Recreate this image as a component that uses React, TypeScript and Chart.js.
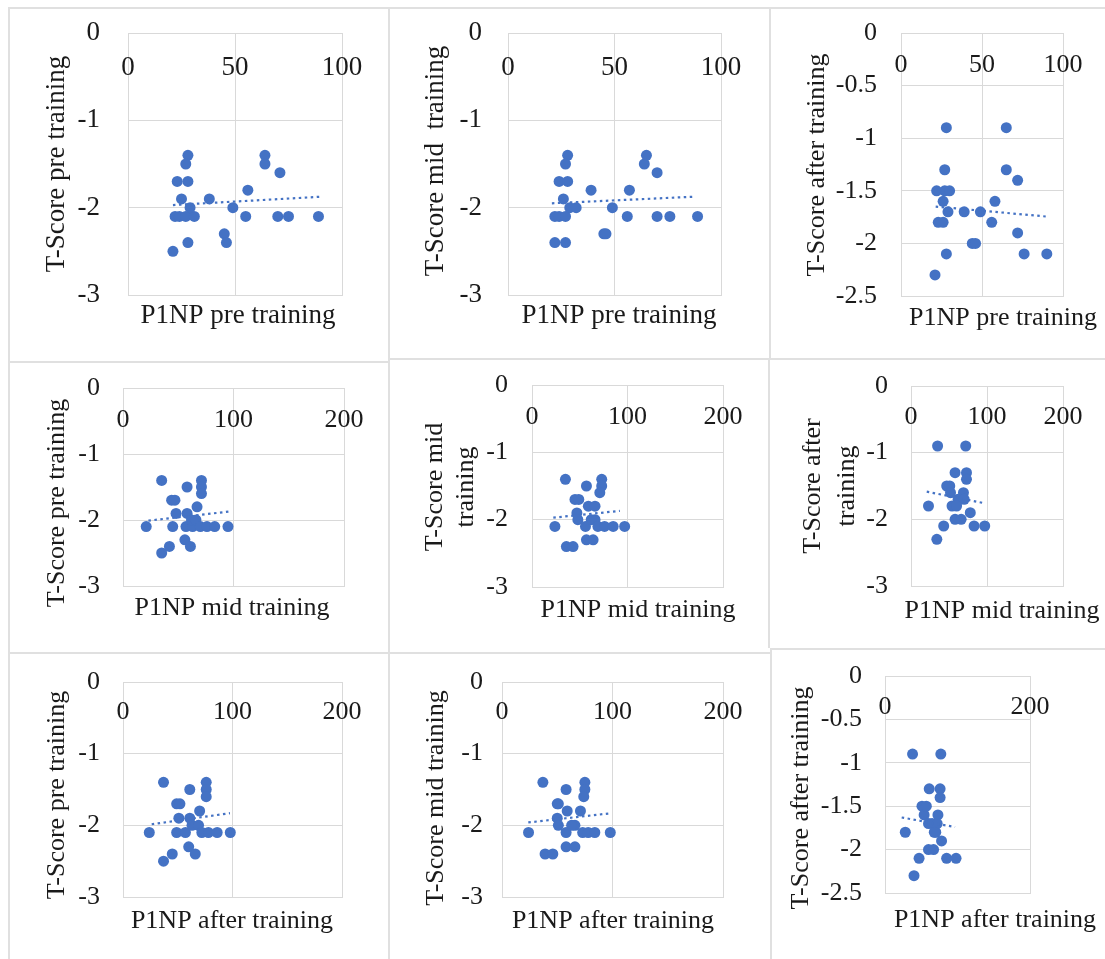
import React, { useEffect, useRef } from "react";
import { Chart, registerables } from "chart.js";

Chart.register(...registerables);

// ---------- DATA ----------
// Row 1: x = P1NP pre training
const p1x = [21, 28, 23, 28, 28, 27, 25, 22, 24, 27, 31, 29, 38, 49, 45, 46, 55, 56, 64, 64, 71, 70, 75, 89];
const p1y = [-2.5, -2.4, -1.7, -1.7, -1.4, -1.5, -1.9, -2.1, -2.1, -2.1, -2.1, -2.0, -1.9, -2.0, -2.3, -2.4, -2.1, -1.8, -1.4, -1.5, -1.6, -2.1, -2.1, -2.1];
const p1TrendX = [21, 90];
const p1TrendY = [-1.97, -1.875];

const p2x = [22, 27, 24, 28, 28, 27, 26, 22, 24, 27, 29, 32, 39, 49, 45, 46, 56, 57, 65, 64, 70, 70, 76, 89];
const p2y = [-2.4, -2.4, -1.7, -1.7, -1.4, -1.5, -1.9, -2.1, -2.1, -2.1, -2.0, -2.0, -1.8, -2.0, -2.3, -2.3, -2.1, -1.8, -1.4, -1.5, -1.6, -2.1, -2.1, -2.1];
const p2TrendX = [20.6, 87];
const p2TrendY = [-1.95, -1.875];

const p3x = [28, 65, 27, 65, 72, 22, 27, 30, 26, 29, 39, 49, 58, 23, 26, 56, 72, 44, 46, 28, 76, 90, 21];
const p3y = [-0.9, -0.9, -1.3, -1.3, -1.4, -1.5, -1.5, -1.5, -1.6, -1.7, -1.7, -1.7, -1.6, -1.8, -1.8, -1.8, -1.9, -2.0, -2.0, -2.1, -2.1, -2.1, -2.3];
const p3TrendX = [21.4, 90];
const p3TrendY = [-1.65, -1.745];

// Row 2: x = P1NP mid training
const p4x = [21, 35, 35, 42, 44, 47, 45, 48, 58, 58, 56, 61, 57, 63, 67, 62, 66, 71, 71, 71, 70, 76, 83, 95];
const p4y = [-2.1, -1.4, -2.5, -2.4, -1.7, -1.7, -2.1, -1.9, -1.9, -1.5, -2.3, -2.4, -2.1, -2.1, -1.8, -2.0, -2.0, -1.4, -1.5, -1.6, -2.1, -2.1, -2.1, -2.1];
const p4TrendX = [23, 97];
const p4TrendY = [-2.01, -1.87];

const p5x = [24, 35, 36, 43, 45, 49, 47, 48, 57, 57, 64, 56, 59, 66, 73, 73, 71, 66, 62, 69, 76, 85, 97];
const p5y = [-2.1, -1.4, -2.4, -2.4, -1.7, -1.7, -1.9, -2.0, -1.5, -2.3, -2.3, -2.1, -1.8, -1.8, -1.4, -1.5, -1.6, -2.0, -2.0, -2.1, -2.1, -2.1, -2.1];
const p5TrendX = [22.3, 92];
const p5TrendY = [-1.97, -1.87];

const p6x = [35, 72, 58, 73, 73, 47, 51, 52, 69, 62, 64, 70, 23, 54, 60, 78, 58, 66, 43, 83, 97, 34];
const p6y = [-0.9, -0.9, -1.3, -1.3, -1.4, -1.5, -1.5, -1.6, -1.6, -1.7, -1.7, -1.7, -1.8, -1.8, -1.8, -1.9, -2.0, -2.0, -2.1, -2.1, -2.1, -2.3];
const p6TrendX = [20.7, 97.4];
const p6TrendY = [-1.585, -1.76];

// Row 3: x = P1NP after training
const p7x = [24, 37, 37, 45, 49, 52, 51, 49, 57, 61, 61, 63, 60, 66, 70, 76, 76, 76, 69, 72, 78, 86, 98];
const p7y = [-2.1, -1.4, -2.5, -2.4, -1.7, -1.7, -1.9, -2.1, -2.1, -1.5, -1.9, -2.0, -2.3, -2.4, -1.8, -1.4, -1.5, -1.6, -2.0, -2.1, -2.1, -2.1, -2.1];
const p7TrendX = [26.2, 97.7];
const p7TrendY = [-1.985, -1.83];

const p8x = [24, 37, 39, 46, 50, 51, 50, 51, 58, 59, 58, 58, 66, 71, 75, 75, 74, 66, 63, 73, 78, 84, 98];
const p8y = [-2.1, -1.4, -2.4, -2.4, -1.7, -1.7, -1.9, -2.0, -1.5, -1.8, -2.1, -2.3, -2.3, -1.8, -1.4, -1.5, -1.6, -2.0, -2.0, -2.1, -2.1, -2.1, -2.1];
const p8TrendX = [23.8, 99.3];
const p8TrendY = [-1.96, -1.83];

const p9x = [38, 77, 61, 76, 76, 51, 54, 73, 28, 60, 65, 70, 78, 60, 67, 47, 85, 98, 40, 57, 72, 68];
const p9y = [-0.9, -0.9, -1.3, -1.3, -1.4, -1.5, -1.6, -1.6, -1.8, -1.7, -1.7, -1.8, -1.9, -2.0, -2.0, -2.1, -2.1, -2.1, -2.3, -1.5, -1.7, -1.8];
const p9TrendX = [23, 96.6];
const p9TrendY = [-1.63, -1.74];

// Axis titles
const xTitles = ["P1NP pre training", "P1NP mid training", "P1NP after training"];
const yTitlesOneLine = ["T-Score pre training", "T-Score mid  training", "T-Score after training"];

// ---------- LAYOUT ----------
type Rect = { x: number; y: number; w: number; h: number };
type PanelCfg = {
  xs: number[];
  ys: number[];
  tx: number[];
  ty: number[];
  cell: Rect;
  plot: { l: number; t: number; r: number; b: number };
  xMax: number;
  xStep: number;
  yMin: number;
  yStep: number;
  font: number;
  yLabelRight: number;
  xLabelY: number;
  yTitle: string[];
  yTitleX: number[];
  yTitleY: number;
  xTitle: string;
  xTitleX: number;
  xTitleBase: number;
};

const panels: PanelCfg[] = [
  {
    xs: p1x, ys: p1y, tx: p1TrendX, ty: p1TrendY,
    cell: { x: 8, y: 7, w: 380, h: 354 },
    plot: { l: 128, t: 33, r: 342, b: 295 },
    xMax: 100, xStep: 50, yMin: -3, yStep: 1, font: 27,
    yLabelRight: 100, xLabelY: 68,
    yTitle: [yTitlesOneLine[0]], yTitleX: [57], yTitleY: 164,
    xTitle: xTitles[0], xTitleX: 238, xTitleBase: 323,
  },
  {
    xs: p2x, ys: p2y, tx: p2TrendX, ty: p2TrendY,
    cell: { x: 388, y: 7, w: 381, h: 351 },
    plot: { l: 508, t: 33, r: 721, b: 295 },
    xMax: 100, xStep: 50, yMin: -3, yStep: 1, font: 27,
    yLabelRight: 482, xLabelY: 68,
    yTitle: [yTitlesOneLine[1]], yTitleX: [436], yTitleY: 161,
    xTitle: xTitles[0], xTitleX: 619, xTitleBase: 323,
  },
  {
    xs: p3x, ys: p3y, tx: p3TrendX, ty: p3TrendY,
    cell: { x: 769, y: 7, w: 336, h: 351 },
    plot: { l: 901, t: 33, r: 1063, b: 296 },
    xMax: 100, xStep: 50, yMin: -2.5, yStep: 0.5, font: 26,
    yLabelRight: 877, xLabelY: 65,
    yTitle: [yTitlesOneLine[2]], yTitleX: [817], yTitleY: 165,
    xTitle: xTitles[0], xTitleX: 1003, xTitleBase: 325,
  },
  {
    xs: p4x, ys: p4y, tx: p4TrendX, ty: p4TrendY,
    cell: { x: 8, y: 361, w: 380, h: 291 },
    plot: { l: 123, t: 388, r: 344, b: 586 },
    xMax: 200, xStep: 100, yMin: -3, yStep: 1, font: 26,
    yLabelRight: 100, xLabelY: 420,
    yTitle: [yTitlesOneLine[0]], yTitleX: [57], yTitleY: 503,
    xTitle: xTitles[1], xTitleX: 232, xTitleBase: 615,
  },
  {
    xs: p5x, ys: p5y, tx: p5TrendX, ty: p5TrendY,
    cell: { x: 388, y: 358, w: 380, h: 294 },
    plot: { l: 532, t: 385, r: 723, b: 587 },
    xMax: 200, xStep: 100, yMin: -3, yStep: 1, font: 26,
    yLabelRight: 508, xLabelY: 417,
    yTitle: ["T-Score mid", "training"], yTitleX: [435, 466], yTitleY: 487,
    xTitle: xTitles[1], xTitleX: 638, xTitleBase: 617,
  },
  {
    xs: p6x, ys: p6y, tx: p6TrendX, ty: p6TrendY,
    cell: { x: 768, y: 358, w: 337, h: 290 },
    plot: { l: 911, t: 386, r: 1063, b: 586 },
    xMax: 200, xStep: 100, yMin: -3, yStep: 1, font: 26,
    yLabelRight: 888, xLabelY: 417,
    yTitle: ["T-Score after", "training"], yTitleX: [813, 847], yTitleY: 486,
    xTitle: xTitles[1], xTitleX: 1002, xTitleBase: 618,
  },
  {
    xs: p7x, ys: p7y, tx: p7TrendX, ty: p7TrendY,
    cell: { x: 8, y: 652, w: 380, h: 307 },
    plot: { l: 123, t: 682, r: 342, b: 897 },
    xMax: 200, xStep: 100, yMin: -3, yStep: 1, font: 26,
    yLabelRight: 100, xLabelY: 712,
    yTitle: [yTitlesOneLine[0]], yTitleX: [57], yTitleY: 795,
    xTitle: xTitles[2], xTitleX: 232, xTitleBase: 928,
  },
  {
    xs: p8x, ys: p8y, tx: p8TrendX, ty: p8TrendY,
    cell: { x: 388, y: 652, w: 382, h: 307 },
    plot: { l: 502, t: 682, r: 723, b: 897 },
    xMax: 200, xStep: 100, yMin: -3, yStep: 1, font: 26,
    yLabelRight: 483, xLabelY: 712,
    yTitle: ["T-Score mid training"], yTitleX: [436], yTitleY: 798,
    xTitle: xTitles[2], xTitleX: 613, xTitleBase: 928,
  },
  {
    xs: p9x, ys: p9y, tx: p9TrendX, ty: p9TrendY,
    cell: { x: 770, y: 648, w: 335, h: 311 },
    plot: { l: 885, t: 676, r: 1030, b: 893 },
    xMax: 200, xStep: 200, yMin: -2.5, yStep: 0.5, font: 26,
    yLabelRight: 862, xLabelY: 707,
    yTitle: [yTitlesOneLine[2]], yTitleX: [801], yTitleY: 798,
    xTitle: xTitles[2], xTitleX: 995, xTitleBase: 927,
  },
];

const BLUE = "#4472C4";
const GRID = "#d9d9d9";
const TEXT = "#1a1a1a";
const FONT_FAMILY = '"Liberation Serif", "Times New Roman", serif';

function fmt(v: number): string {
  return String(Number(v.toFixed(2)));
}

function makeTextPlugin(c: PanelCfg) {
  return {
    id: "panelText",
    afterDraw(chart: any) {
      const ctx: CanvasRenderingContext2D = chart.ctx;
      const ox = c.cell.x;
      const oy = c.cell.y;
      const xs = chart.scales.x;
      const ys = chart.scales.y;
      ctx.save();
      ctx.fillStyle = TEXT;
      ctx.font = `${c.font}px ${FONT_FAMILY}`;
      // x tick labels (drawn inside the plot, under the top edge)
      ctx.textAlign = "center";
      ctx.textBaseline = "middle";
      xs.ticks.forEach((t: any) => {
        ctx.fillText(fmt(t.value), xs.getPixelForValue(t.value), c.xLabelY - oy);
      });
      // y tick labels
      ctx.textAlign = "right";
      ys.ticks.forEach((t: any) => {
        ctx.fillText(fmt(t.value), c.yLabelRight - ox, ys.getPixelForValue(t.value));
      });
      // x title
      ctx.textAlign = "center";
      ctx.textBaseline = "alphabetic";
      ctx.fillText(c.xTitle, c.xTitleX - ox, c.xTitleBase - oy);
      // y title (rotated)
      c.yTitle.forEach((line, i) => {
        ctx.save();
        ctx.translate(c.yTitleX[i] - ox, c.yTitleY - oy);
        ctx.rotate(-Math.PI / 2);
        ctx.textAlign = "center";
        ctx.textBaseline = "middle";
        ctx.fillText(line, 0, 0);
        ctx.restore();
      });
      ctx.restore();
    },
  };
}

function Panel({ cfg }: { cfg: PanelCfg }) {
  const ref = useRef<HTMLCanvasElement | null>(null);
  useEffect(() => {
    if (!ref.current) return;
    const c = cfg;
    const points = c.xs.map((x, i) => ({ x, y: c.ys[i] }));
    const trend = c.tx.map((x, i) => ({ x, y: c.ty[i] }));
    const chart = new Chart(ref.current, {
      type: "scatter",
      data: {
        datasets: [
          {
            label: "trend",
            data: trend,
            showLine: true,
            borderColor: BLUE,
            borderWidth: 2.2,
            borderDash: [2.5, 3.5],
            pointRadius: 0,
            pointHoverRadius: 0,
            fill: false,
          } as any,
          {
            label: "points",
            data: points,
            backgroundColor: BLUE,
            borderWidth: 0,
            pointRadius: 5.5,
            pointHoverRadius: 5.5,
          },
        ],
      },
      options: {
        responsive: false,
        animation: false,
        events: [],
        layout: {
          padding: {
            left: c.plot.l - c.cell.x,
            top: c.plot.t - c.cell.y,
            right: c.cell.x + c.cell.w - c.plot.r,
            bottom: c.cell.y + c.cell.h - c.plot.b,
          },
        },
        plugins: {
          legend: { display: false },
          tooltip: { enabled: false },
          title: { display: false },
        },
        scales: {
          x: {
            type: "linear",
            min: 0,
            max: c.xMax,
            ticks: { display: false, stepSize: c.xStep },
            grid: { color: GRID, lineWidth: 1, drawTicks: false },
            border: { display: true, color: GRID, width: 1 },
            title: { display: false },
          },
          y: {
            type: "linear",
            min: c.yMin,
            max: 0,
            ticks: { display: false, stepSize: c.yStep },
            grid: { color: GRID, lineWidth: 1, drawTicks: false },
            border: { display: true, color: GRID, width: 1 },
            title: { display: false },
          },
        },
      },
      plugins: [makeTextPlugin(c)],
    });
    return () => chart.destroy();
  }, [cfg]);
  return (
    <canvas
      ref={ref}
      width={cfg.cell.w}
      height={cfg.cell.h}
      style={{
        position: "absolute",
        left: cfg.cell.x,
        top: cfg.cell.y,
        width: cfg.cell.w,
        height: cfg.cell.h,
      }}
    />
  );
}

export default function App() {
  return (
    <div
      style={{
        position: "absolute",
        left: 0,
        top: 0,
        width: 1105,
        height: 959,
        overflow: "hidden",
        background: "#ffffff",
      }}
    >
      {panels.map((p, i) => (
        <div
          key={"b" + i}
          style={{
            position: "absolute",
            left: p.cell.x,
            top: p.cell.y,
            width: p.cell.w,
            height: p.cell.h,
            boxSizing: "border-box",
            borderTop: "2px solid #e0e0e0",
            borderLeft: "2px solid #e0e0e0",
          }}
        />
      ))}
      {panels.map((p, i) => (
        <Panel key={"p" + i} cfg={p} />
      ))}
    </div>
  );
}
